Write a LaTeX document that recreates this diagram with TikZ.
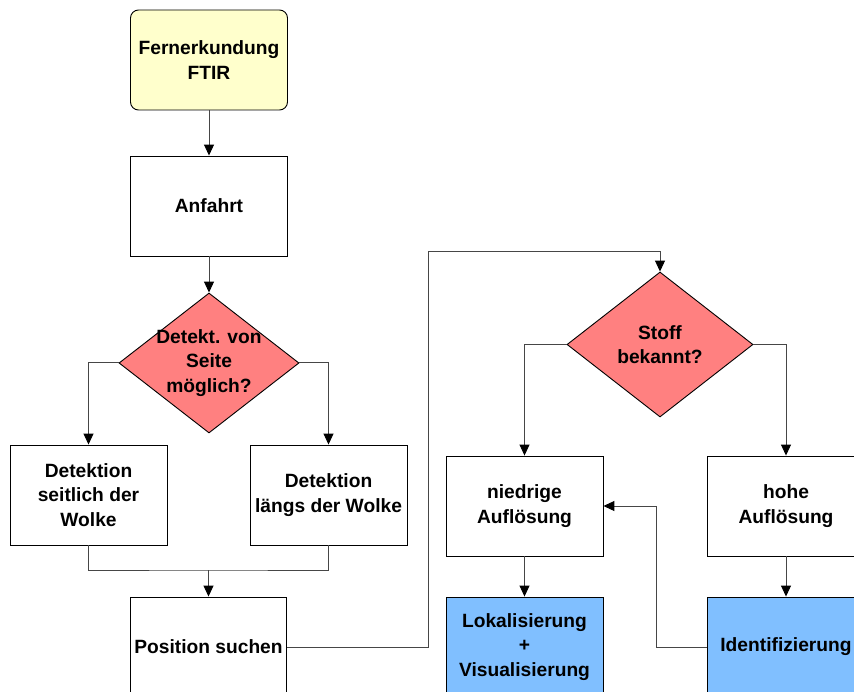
\documentclass[tikz,border=0pt]{standalone}
\usepackage{fontspec}
\setmainfont{Liberation Sans}
\usetikzlibrary{shapes.geometric,arrows.meta}
\definecolor{termfill}{RGB}{255,255,204}
\definecolor{decfill}{RGB}{255,128,128}
\definecolor{resfill}{RGB}{128,191,255}
\definecolor{linkgray}{RGB}{70,70,70}
\begin{document}
\begin{tikzpicture}[x=1pt,y=-1pt,
  lbl/.style={font=\fontsize{19.2}{24.5}\selectfont\bfseries, align=center, text=black},
  stepbox/.style={lbl, draw=black, line width=0.9pt, fill=white,
    minimum width=157pt, minimum height=100pt, inner sep=0pt},
  startbox/.style={stepbox, fill=termfill, rounded corners=8pt},
  resbox/.style={stepbox, fill=resfill},
  decbox/.style={diamond, draw=black, line width=0.9pt, fill=decfill, inner sep=0pt},
  link/.style={draw=linkgray, line width=1pt, -{Triangle[length=11pt,width=10pt,color=black]}},
  plain/.style={draw=linkgray, line width=1pt}]
\useasboundingbox (0,0) rectangle (854,692);
\clip (0,0) rectangle (854,692);
\fill[white] (0,0) rectangle (854,692);

% left column
\node[startbox] (fern) at (209,60) {Fernerkundung\\FTIR};
\node[stepbox] (anf) at (209,206) {Anfahrt};
\node[decbox, minimum width=180pt, minimum height=140pt] (d1) at (209,363) {};
\node[lbl] at (d1) {Detekt. von\\Seite\\möglich?};
\node[stepbox] (detL) at (88.5,495) {Detektion\\seitlich der\\Wolke};
\node[stepbox] (detR) at (328.5,495) {Detektion\\längs der Wolke};
\node[stepbox, minimum width=156pt] (pos) at (208.5,647) {Position suchen};

% right column
\node[decbox, minimum width=186pt, minimum height=145pt] (d2) at (660,344.5) {};
\node[lbl] at (d2) {Stoff\\bekannt?};
\node[stepbox] (nied) at (524.5,506) {niedrige\\Auflösung};
\node[stepbox, minimum width=158pt] (hohe) at (786,506) {hohe\\Auflösung};
\node[resbox] (lok) at (524.5,647) {Lokalisierung\\+\\Visualisierung};
\node[resbox, minimum width=158pt] (ident) at (786,647) {Identifizierung};

% routing points
\coordinate (j1) at (208.5,570);
\coordinate (r1) at (428,252);
\coordinate (r2) at (656,647);

% connectors
\draw[link] (fern.south) -- (anf.north);
\draw[link] (anf.south) -- (d1.north);
\draw[link] (d1.west) -| (detL.north);
\draw[link] (d1.east) -| (detR.north);
\draw[plain] (detL.south) |- (j1) -| (detR.south);
\draw[link] (j1) -- (pos.north);
\draw[link] (pos.east) -| (r1) -| (d2.north);
\draw[link] (d2.west) -| (nied.north);
\draw[link] (d2.east) -| (hohe.north);
\draw[link] (nied.south) -- (lok.north);
\draw[link] (hohe.south) -- (ident.north);
\draw[link] (ident.west) -- (r2) |- (nied.east);
\end{tikzpicture}
\end{document}
